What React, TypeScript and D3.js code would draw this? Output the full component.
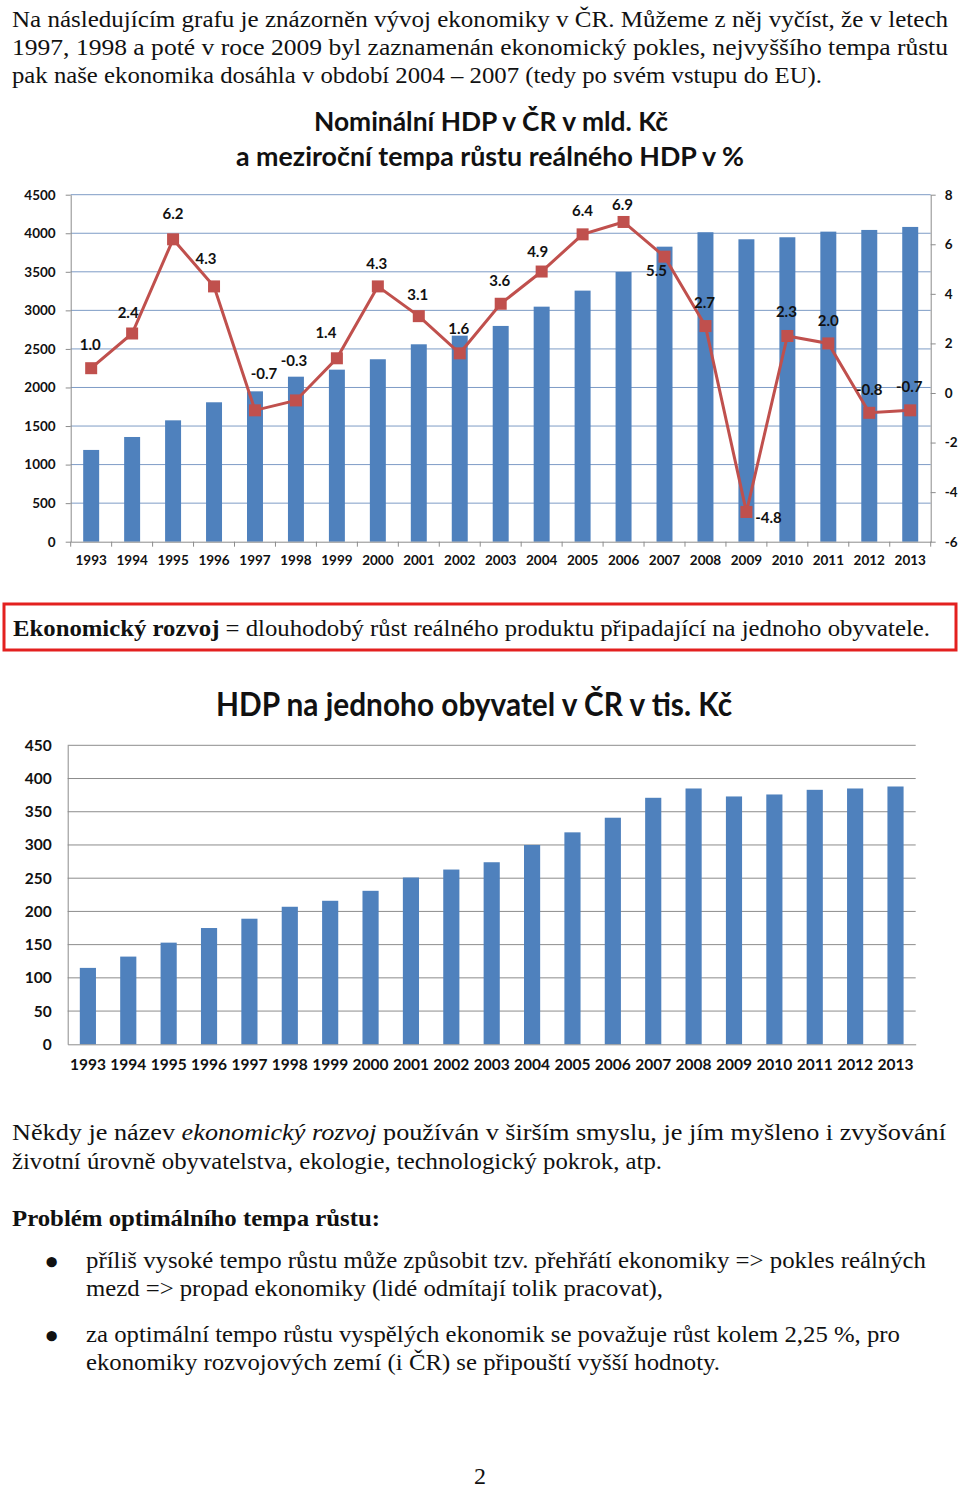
import React, { useEffect, useRef } from 'react';
import * as d3 from 'd3';

const years = ['1993', '1994', '1995', '1996', '1997', '1998', '1999', '2000', '2001', '2002', '2003',
  '2004', '2005', '2006', '2007', '2008', '2009', '2010', '2011', '2012', '2013'];

// nominal GDP, bn CZK
const nominalGdp = [1190, 1358, 1574, 1808, 1950, 2140, 2231, 2366, 2560, 2672, 2798,
  3048, 3256, 3498, 3826, 4013, 3922, 3948, 4021, 4043, 4082];

// real GDP growth, %
const realGrowth = [1.0, 2.4, 6.2, 4.3, -0.7, -0.3, 1.4, 4.3, 3.1, 1.6, 3.6,
  4.9, 6.4, 6.9, 5.5, 2.7, -4.8, 2.3, 2.0, -0.8, -0.7];

// GDP per capita, thousand CZK
const perCapitaGdp = [115, 132, 153, 175, 189, 207, 216, 231, 251, 263, 274,
  300, 319, 341, 371, 385, 373, 376, 383, 385, 388];

const gdpTicks = [0, 500, 1000, 1500, 2000, 2500, 3000, 3500, 4000, 4500];
const growthTicks = [-6, -4, -2, 0, 2, 4, 6, 8];
const perCapitaTicks = [0, 50, 100, 150, 200, 250, 300, 350, 400, 450];

// label nudges for the growth values (dx, dy from the marker)
const labelNudge = [[-1, -18], [-4, -16], [0, -20], [-8, -22], [9, -31], [-2, -34], [-11, -20],
  [-1, -17], [-1, -16], [-1, -19], [-1, -18], [-4, -15], [0, -18], [-1, -12], [-8, 19],
  [-1, -18], [22, 11], [-1, -19], [0, -17], [0, -18], [-1, -18]];

const BLUE = '#4f81bd';
const RED = '#c0504d';
const chartFont = 'Lato, "Open Sans", sans-serif';
const serif = '"Liberation Serif", "Times New Roman", serif';

const App = () => {
  const ref = useRef(null);

  useEffect(() => {
    const svg = d3.select(ref.current);
    svg.selectAll('*').remove();

    // ---------- text ----------
    const txt = (x, y, w, parts, opts = {}) => {
      const t = svg.append('text')
        .attr('x', x).attr('y', y)
        .attr('font-family', serif)
        .attr('font-size', opts.size || 24)
        .attr('fill', '#111');
      if (w) t.attr('textLength', w).attr('lengthAdjust', 'spacingAndGlyphs');
      parts.forEach(p => {
        const s = t.append('tspan').text(p.t);
        if (p.b) s.attr('font-weight', 'bold');
        if (p.i) s.attr('font-style', 'italic');
      });
      return t;
    };

    txt(12, 27, 936, [{ t: 'Na následujícím grafu je znázorněn vývoj ekonomiky v ČR. Můžeme z něj vyčíst, že v letech' }]);
    txt(12, 55, 936, [{ t: '1997, 1998 a poté v roce 2009 byl zaznamenán ekonomický pokles, nejvyššího tempa růstu' }]);
    txt(12, 83, 810, [{ t: 'pak naše ekonomika dosáhla v období 2004 – 2007 (tedy po svém vstupu do EU).' }]);

    svg.append('rect')
      .attr('x', 4).attr('y', 604).attr('width', 952).attr('height', 46)
      .attr('fill', 'none').attr('stroke', '#e3201f').attr('stroke-width', 3);
    txt(13, 636, 917, [{ t: 'Ekonomický rozvoj', b: true }, { t: ' = dlouhodobý růst reálného produktu připadající na jednoho obyvatele.' }]);

    txt(12, 1140, 934, [{ t: 'Někdy je název ' }, { t: 'ekonomický rozvoj', i: true },
      { t: ' používán v širším smyslu, je jím myšleno i zvyšování' }]);
    txt(12, 1169, 650, [{ t: 'životní úrovně obyvatelstva, ekologie, technologický pokrok, atp.' }]);
    txt(12, 1226, 368, [{ t: 'Problém optimálního tempa růstu:', b: true }]);
    txt(45, 1275, 0, [{ t: '•', b: true }], { size: 38 });
    txt(86, 1268, 840, [{ t: 'příliš vysoké tempo růstu může způsobit tzv. přehřátí ekonomiky => pokles reálných' }]);
    txt(86, 1296, 577, [{ t: 'mezd => propad ekonomiky (lidé odmítají tolik pracovat),' }]);
    txt(45, 1349, 0, [{ t: '•', b: true }], { size: 38 });
    txt(86, 1342, 814, [{ t: 'za optimální tempo růstu vyspělých ekonomik se považuje růst kolem 2,25 %, pro' }]);
    txt(86, 1370, 634, [{ t: 'ekonomiky rozvojových zemí (i ČR) se připouští vyšší hodnoty.' }]);
    txt(480, 1484, 0, [{ t: '2' }]).attr('text-anchor', 'middle');

    // ---------- chart 1 ----------
    const c1 = { left: 70.7, right: 930.7, top: 194.7, bottom: 541.7 };
    const x1 = d3.scaleBand().domain(years).range([c1.left, c1.right]).padding(0);
    const y1 = d3.scaleLinear().domain([0, 4500]).range([c1.bottom, c1.top]);
    const y2 = d3.scaleLinear().domain([-6, 8]).range([c1.bottom, c1.top]);
    const bw1 = x1.bandwidth() * 0.39;

    const title = (x, y, w, size, s) => svg.append('text')
      .attr('x', x).attr('y', y)
      .attr('font-family', chartFont).attr('font-weight', 'bold')
      .attr('font-size', size).attr('fill', '#111')
      .attr('textLength', w).attr('lengthAdjust', 'spacingAndGlyphs')
      .text(s);
    title(314, 131, 354, 27, 'Nominální HDP v ČR v mld. Kč');
    title(236, 166, 508, 27, 'a meziroční tempa růstu reálného HDP v %');

    const g1 = svg.append('g');
    g1.append('g').selectAll('line')
      .data(gdpTicks.slice(1))
      .join('line')
      .attr('x1', c1.left).attr('x2', c1.right)
      .attr('y1', d => y1(d)).attr('y2', d => y1(d))
      .attr('stroke', '#7e9cc6').attr('stroke-width', 1);

    g1.append('g').selectAll('rect')
      .data(nominalGdp)
      .join('rect')
      .attr('x', (d, i) => x1(years[i]) + (x1.bandwidth() - bw1) / 2)
      .attr('y', d => y1(d))
      .attr('width', bw1)
      .attr('height', d => y1(0) - y1(d))
      .attr('fill', BLUE);

    const axisStyle = g => {
      g.selectAll('.domain').attr('stroke', '#8c8c8c');
      g.selectAll('.tick line').attr('stroke', '#8c8c8c');
      g.selectAll('text')
        .attr('font-family', chartFont).attr('font-weight', 'bold')
        .attr('fill', '#111');
    };
    const plain = d => String(d);

    g1.append('g')
      .attr('transform', `translate(${c1.left},0)`)
      .call(d3.axisLeft(y1).tickValues(gdpTicks).tickFormat(plain).tickSize(5).tickSizeOuter(0).tickPadding(10))
      .call(axisStyle)
      .call(g => g.selectAll('text').attr('font-size', 13.5));

    g1.append('g')
      .attr('transform', `translate(${c1.right},0)`)
      .call(d3.axisRight(y2).tickValues(growthTicks).tickFormat(plain).tickSize(5).tickSizeOuter(0).tickPadding(9))
      .call(axisStyle)
      .call(g => g.selectAll('text').attr('font-size', 13.5));

    const xAxis1 = g1.append('g')
      .attr('transform', `translate(0,${c1.bottom})`)
      .call(d3.axisBottom(x1).tickSize(0).tickPadding(14))
      .call(axisStyle)
      .call(g => g.selectAll('text').attr('font-size', 13.5));
    xAxis1.selectAll('.sep')
      .data(d3.range(years.length + 1))
      .join('line')
      .attr('x1', i => c1.left + i * x1.step()).attr('x2', i => c1.left + i * x1.step())
      .attr('y1', 0).attr('y2', 5)
      .attr('stroke', '#8c8c8c');

    const line = d3.line()
      .x((d, i) => x1(years[i]) + x1.bandwidth() / 2)
      .y(d => y2(d));
    g1.append('path')
      .datum(realGrowth)
      .attr('d', line)
      .attr('fill', 'none')
      .attr('stroke', RED)
      .attr('stroke-width', 3);

    const ms = 12;
    g1.append('g').selectAll('rect')
      .data(realGrowth)
      .join('rect')
      .attr('x', (d, i) => x1(years[i]) + x1.bandwidth() / 2 - ms / 2)
      .attr('y', d => y2(d) - ms / 2)
      .attr('width', ms).attr('height', ms)
      .attr('fill', RED);

    g1.append('g').selectAll('text')
      .data(realGrowth)
      .join('text')
      .attr('x', (d, i) => x1(years[i]) + x1.bandwidth() / 2 + labelNudge[i][0])
      .attr('y', (d, i) => y2(d) + labelNudge[i][1])
      .attr('text-anchor', 'middle')
      .attr('font-family', chartFont).attr('font-weight', 'bold')
      .attr('font-size', 15).attr('fill', '#111')
      .text(d => d.toFixed(1));

    // ---------- chart 2 ----------
    const c2 = { left: 67.7, right: 915.7, top: 745.3, bottom: 1044.3 };
    const x3 = d3.scaleBand().domain(years).range([c2.left, c2.right]).padding(0);
    const y3 = d3.scaleLinear().domain([0, 450]).range([c2.bottom, c2.top]);
    const bw3 = x3.bandwidth() * 0.4;

    title(216, 716, 516, 32, 'HDP na jednoho obyvatel v ČR v tis. Kč');

    const g2 = svg.append('g');
    g2.append('g').selectAll('line')
      .data(perCapitaTicks.slice(1))
      .join('line')
      .attr('x1', c2.left).attr('x2', c2.right)
      .attr('y1', d => y3(d)).attr('y2', d => y3(d))
      .attr('stroke', '#8c8c8c').attr('stroke-width', 1);

    g2.append('g').selectAll('rect')
      .data(perCapitaGdp)
      .join('rect')
      .attr('x', (d, i) => x3(years[i]) + (x3.bandwidth() - bw3) / 2)
      .attr('y', d => y3(d))
      .attr('width', bw3)
      .attr('height', d => y3(0) - y3(d))
      .attr('fill', BLUE);

    g2.append('g')
      .attr('transform', `translate(${c2.left},0)`)
      .call(d3.axisLeft(y3).tickValues(perCapitaTicks).tickFormat(plain).tickSize(0).tickPadding(16))
      .call(axisStyle)
      .call(g => g.selectAll('text').attr('font-size', 15.5));

    g2.append('g')
      .attr('transform', `translate(0,${c2.bottom})`)
      .call(d3.axisBottom(x3).tickSize(0).tickPadding(15))
      .call(axisStyle)
      .call(g => g.selectAll('text').attr('font-size', 15.5));
  }, []);

  return (
    <svg ref={ref} width={960} height={1490}
      style={{ position: 'absolute', left: 0, top: 0, background: '#fff' }} />
  );
};

export default App;
